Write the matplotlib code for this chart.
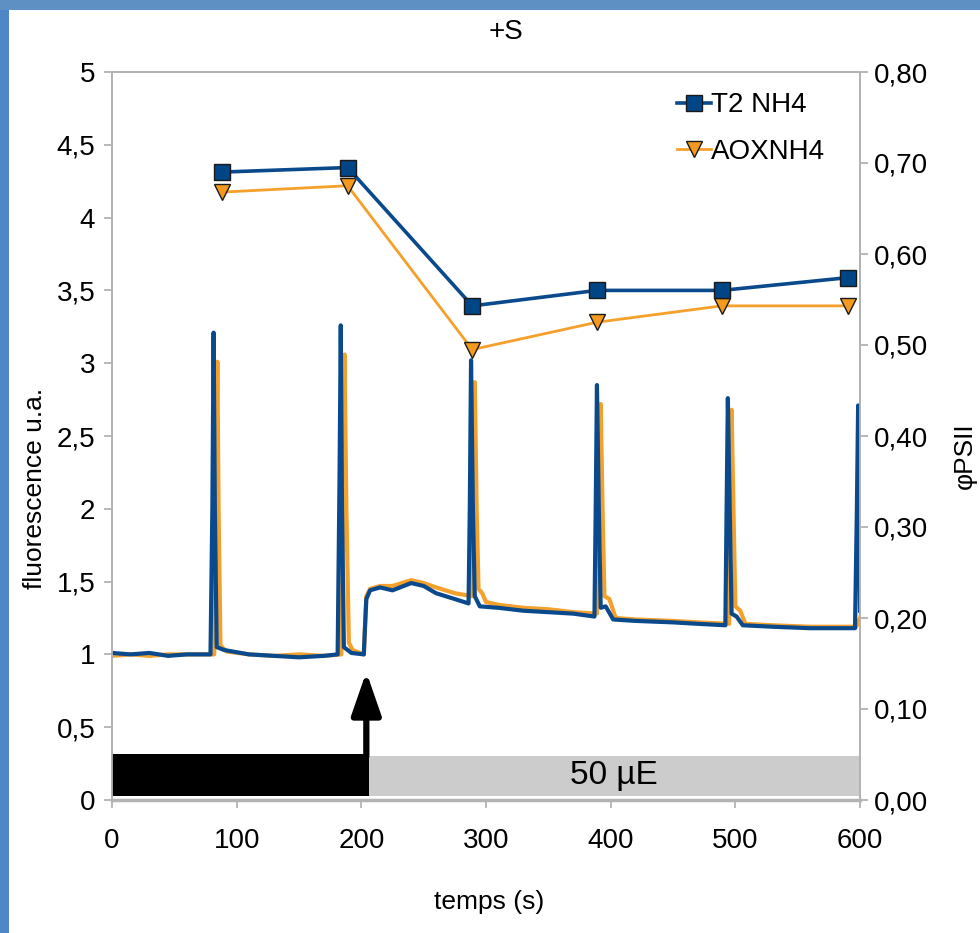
import matplotlib
matplotlib.use("Agg")
import matplotlib.pyplot as plt
from matplotlib.patches import Rectangle
from matplotlib.ticker import FuncFormatter, FixedLocator

plt.rcParams['font.family'] = ['Liberation Sans', 'DejaVu Sans']

# --- fluorescence traces (time s, fluorescence u.a.) ---
t2_time = [0, 15, 30, 45, 60, 72, 79, 80.5, 81.5, 82.5, 84, 90, 110, 130, 150, 170, 181,
           182.5, 183.5, 184.5, 186, 192, 202, 203, 204, 207, 215, 225, 240, 250, 260, 275,
           286, 287, 288, 289.5, 291, 295, 310, 330, 350, 370, 387, 388, 389, 390.5, 392,
           396, 402, 420, 450, 470, 492, 493, 494, 495.5, 497, 501, 506, 530, 560, 596,
           597.5, 598.5, 599.5, 600]
t2_fluo = [1.01, 1.0, 1.01, 0.99, 1.0, 1.0, 1.0, 2.0, 3.21, 2.0, 1.05, 1.03, 1.0, 0.99, 0.98,
           0.99, 1.0, 2.2, 3.26, 2.0, 1.05, 1.01, 1.0, 1.2, 1.38, 1.44, 1.46, 1.44, 1.49, 1.47,
           1.42, 1.38, 1.35, 2.0, 3.02, 2.0, 1.4, 1.33, 1.32, 1.3, 1.29, 1.28, 1.26, 2.0, 2.85,
           2.0, 1.32, 1.33, 1.24, 1.23, 1.22, 1.21, 1.2, 2.0, 2.76, 2.0, 1.28, 1.26, 1.2, 1.19,
           1.18, 1.18, 2.0, 2.71, 2.0, 1.3]

aox_time = [0, 15, 30, 45, 60, 72, 82, 83.5, 84.5, 85.5, 87, 92, 110, 130, 150, 170, 184,
            185.5, 186.5, 188, 190, 193, 202, 203, 204, 207, 215, 225, 240, 250, 260, 275,
            289, 290, 291, 292.5, 294, 297, 300, 310, 330, 350, 370, 389, 390.5, 392, 393.5,
            395, 399, 404, 420, 450, 470, 495, 496, 497, 498.5, 500, 504, 508, 530, 560, 597,
            600]
aox_fluo = [0.99, 1.0, 0.99, 1.0, 1.0, 1.0, 1.0, 2.0, 3.01, 2.0, 1.06, 1.02, 1.0, 0.99, 1.0,
            0.99, 1.0, 2.0, 3.06, 2.0, 1.08, 1.03, 1.0, 1.2, 1.4, 1.45, 1.47, 1.47, 1.51,
            1.49, 1.46, 1.42, 1.40, 2.0, 2.87, 2.0, 1.45, 1.42, 1.36, 1.34, 1.32, 1.31, 1.29,
            1.28, 2.0, 2.72, 2.0, 1.40, 1.38, 1.25, 1.24, 1.23, 1.22, 1.21, 2.0, 2.68, 2.0,
            1.33, 1.30, 1.21, 1.20, 1.19, 1.19, 1.25]

# --- PSII yield points (right axis) ---
psii_time = [88, 189, 289, 389, 489, 590]
t2_psii = [0.690, 0.695, 0.543, 0.560, 0.560, 0.574]
aox_psii = [0.668, 0.675, 0.495, 0.525, 0.543, 0.543]

# --- light regime bar ---
dark_end = 206
light_end = 599
light_label = "50 µE"

blue = '#0a4a8c'
orange = '#f5a02a'
grey_axis = '#b3b3b3'

fig = plt.figure(figsize=(9.8, 9.33), dpi=100)
fig.patch.set_facecolor('white')

# slide border (blue strips)
fig.patches.append(Rectangle((0, 0), 9 / 980, 1, transform=fig.transFigure,
                             facecolor='#4f86c6', edgecolor='none', zorder=0))
fig.patches.append(Rectangle((0, 1 - 10 / 933), 1, 10 / 933, transform=fig.transFigure,
                             facecolor='#5f90c4', edgecolor='none', zorder=0))

ax = fig.add_axes([112 / 980, 1 - 800 / 933, 748 / 980, 728 / 933])
ax2 = ax.twinx()

ax.plot(aox_time, aox_fluo, color=orange, lw=3.0, zorder=2)
ax.plot(t2_time, t2_fluo, color=blue, lw=3.0, zorder=3)

# light bars
ax.add_patch(Rectangle((0, 0.03), dark_end, 0.285, facecolor='black', edgecolor='none', zorder=4))
ax.add_patch(Rectangle((dark_end, 0.03), light_end - dark_end, 0.27, facecolor='#cccccc',
                       edgecolor='none', zorder=4))
ax.text((dark_end + light_end) / 2 + 0, 0.165, light_label, ha='center', va='center',
        fontsize=24, zorder=5)
ax.annotate('', xy=(dark_end - 2, 0.88), xytext=(dark_end - 2, 0.3),
            arrowprops=dict(arrowstyle='-|>,head_length=2.6,head_width=0.9', lw=4.5,
                            color='black', shrinkA=0, shrinkB=0), zorder=6)

ax.set_xlim(0, 600)
ax.set_ylim(0, 5)
ax.xaxis.set_major_locator(FixedLocator([0, 100, 200, 300, 400, 500, 600]))
ax.yaxis.set_major_locator(FixedLocator([0, 0.5, 1, 1.5, 2, 2.5, 3, 3.5, 4, 4.5, 5]))
ax.yaxis.set_major_formatter(FuncFormatter(lambda v, p: ('%g' % v).replace('.', ',')))

ax2.plot(psii_time, t2_psii, color=blue, lw=2.6, marker='s', markersize=12,
         markerfacecolor='#004586', markeredgecolor='#1a1a1a', markeredgewidth=1.0,
         label='T2 NH4', zorder=5)
ax2.plot(psii_time, aox_psii, color=orange, lw=2.0, marker='v', markersize=12,
         markerfacecolor='#f39a1e', markeredgecolor='#1a1a1a', markeredgewidth=1.0,
         label='AOXNH4', zorder=4)
ax2.set_ylim(0, 0.8)
ax2.yaxis.set_major_locator(FixedLocator([0, 0.1, 0.2, 0.3, 0.4, 0.5, 0.6, 0.7, 0.8]))
ax2.yaxis.set_major_formatter(FuncFormatter(lambda v, p: ('%.2f' % v).replace('.', ',')))

for a in (ax, ax2):
    for s in a.spines.values():
        s.set_color(grey_axis)
        s.set_linewidth(1.3)
    a.tick_params(colors=grey_axis, labelcolor='black', labelsize=20, length=6, width=1.3)
ax.spines['bottom'].set_linewidth(2.5)
ax.tick_params(axis='x', pad=14)
ax.tick_params(axis='y', pad=6)
ax2.tick_params(axis='y', pad=4)

leg = ax2.legend(loc='upper right', bbox_to_anchor=(0.975, 0.995), frameon=False,
                 fontsize=20, handlelength=1.2, handletextpad=0.0, labelspacing=0.75,
                 borderaxespad=0.2)

fig.text(506 / 980, 1 - 32 / 933, '+S', ha='center', va='center', fontsize=20)
fig.text(489 / 980, 1 - 902 / 933, 'temps (s)', ha='center', va='center', fontsize=19)
fig.text(35 / 980, 1 - 488 / 933, 'fluorescence u.a.', ha='center', va='center',
         rotation=90, fontsize=19)
fig.text(965 / 980, 1 - 456 / 933, 'φPSII', ha='center', va='center', rotation=90,
         fontsize=19)

fig.savefig('out.png', dpi=100)
